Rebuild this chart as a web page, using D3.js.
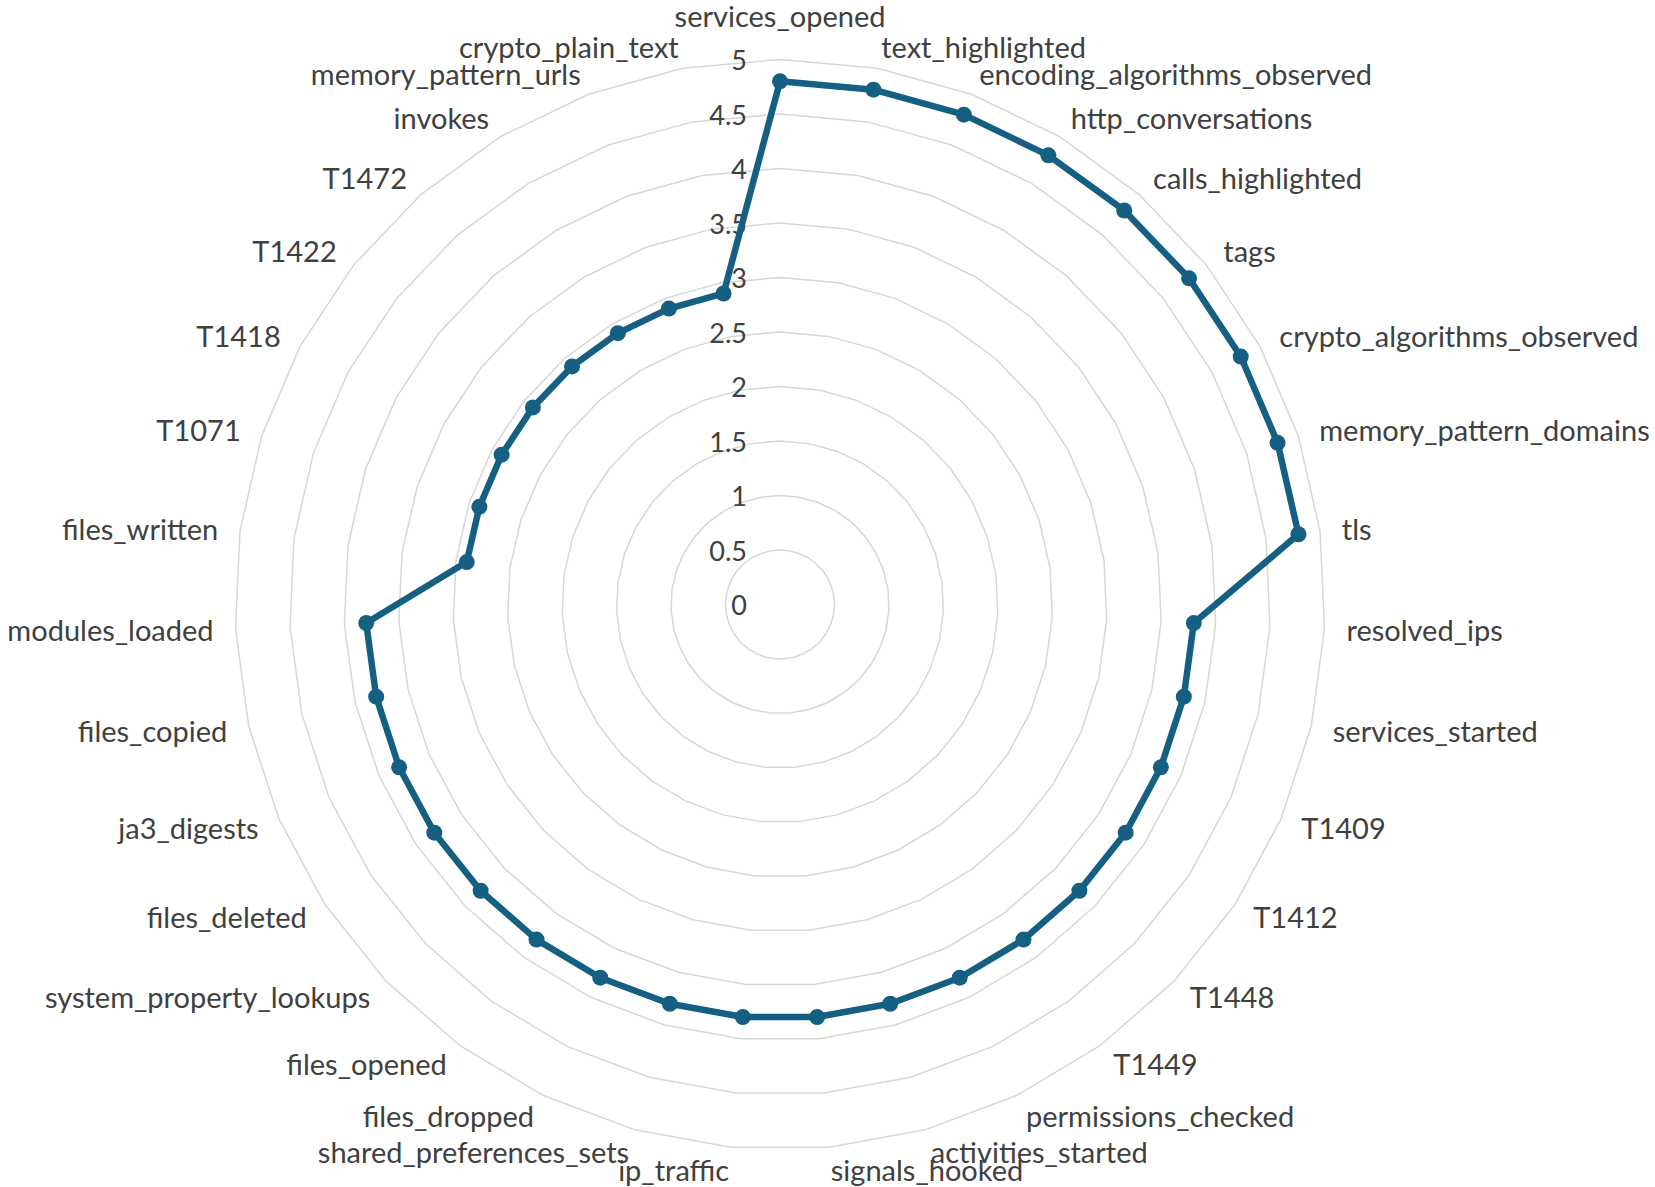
<!DOCTYPE html>
<html>
<head>
<meta charset="utf-8">
<script src="https://cdn.jsdelivr.net/npm/d3@7"></script>
<style>
  html, body { margin: 0; padding: 0; background: #ffffff; }
  svg { display: block; }
  text { font-family: Lato, "Open Sans", sans-serif; fill: #404040; }
</style>
</head>
<body>
<svg id="chart" width="1655" height="1187"></svg>
<script>
const categories = [
  "services_opened", "text_highlighted", "encoding_algorithms_observed", "http_conversations",
  "calls_highlighted", "tags", "crypto_algorithms_observed", "memory_pattern_domains", "tls",
  "resolved_ips", "services_started", "T1409", "T1412", "T1448", "T1449", "permissions_checked",
  "activities_started", "signals_hooked", "ip_traffic", "shared_preferences_sets", "files_dropped",
  "files_opened", "system_property_lookups", "files_deleted", "ja3_digests", "files_copied",
  "modules_loaded", "files_written", "T1071", "T1418", "T1422", "T1472", "invokes",
  "memory_pattern_urls", "crypto_plain_text"
];
const values = [
  4.8, 4.8, 4.8, 4.8, 4.8, 4.8, 4.8, 4.8, 4.8,
  3.8, 3.8, 3.8, 3.8, 3.8, 3.8, 3.8, 3.8, 3.8,
  3.8, 3.8, 3.8, 3.8, 3.8, 3.8, 3.8, 3.8, 3.8,
  2.9, 2.9, 2.9, 2.9, 2.9, 2.9, 2.9, 2.9
];
const tickValues = [0, 0.5, 1, 1.5, 2, 2.5, 3, 3.5, 4, 4.5, 5];
const tickLabels = ["0", "0.5", "1", "1.5", "2", "2.5", "3", "3.5", "4", "4.5", "5"];

const cx = 780, cy = 604.5;
const outerR = 545, labelR = 567;
const color = "#156082";

const svg = d3.select("#chart");
const g = svg.append("g").attr("transform", `translate(${cx},${cy})`);

const n = categories.length;
const angle = d3.scaleLinear().domain([0, n]).range([0, 2 * Math.PI]);
const r = d3.scaleLinear().domain([0, 5]).range([0, outerR]);

// grid rings (polygons)
const ringLine = d3.lineRadial()
  .angle((d, i) => angle(i))
  .radius(d => r(d))
  .curve(d3.curveLinearClosed);

g.append("g").selectAll("path")
  .data(tickValues.filter(t => t > 0))
  .join("path")
  .attr("d", t => ringLine(categories.map(() => t)))
  .attr("fill", "none")
  .attr("stroke", "#d6d6d6")
  .attr("stroke-width", 1.5);

// tick labels
g.append("g").selectAll("text")
  .data(tickValues)
  .join("text")
  .attr("x", -33)
  .attr("y", t => -r(t))
  .attr("text-anchor", "end")
  .attr("dominant-baseline", "central")
  .style("font-size", "27px")
  .text((t, i) => tickLabels[i]);

// category labels
g.append("g").selectAll("text")
  .data(categories)
  .join("text")
  .each(function(d, i) {
    const a = angle(i);
    const s = Math.sin(a), c = Math.cos(a);
    const sel = d3.select(this);
    if (i === 0) {
      sel.attr("x", 0).attr("y", -labelR - 22).attr("text-anchor", "middle");
    } else {
      sel.attr("x", labelR * s).attr("y", -labelR * c)
        .attr("text-anchor", s > 0.001 ? "start" : (s < -0.001 ? "end" : "middle"));
    }
    sel.attr("dominant-baseline", "central");
  })
  .style("font-size", "29px")
  .text(d => d);

// data line
const dataLine = d3.lineRadial()
  .angle((d, i) => angle(i))
  .radius(d => r(d))
  .curve(d3.curveLinearClosed);

g.append("path")
  .datum(values)
  .attr("d", dataLine)
  .attr("fill", "none")
  .attr("stroke", color)
  .attr("stroke-width", 6.5)
  .attr("stroke-linejoin", "round");

g.append("g").selectAll("circle")
  .data(values)
  .join("circle")
  .attr("cx", (d, i) => r(d) * Math.sin(angle(i)))
  .attr("cy", (d, i) => -r(d) * Math.cos(angle(i)))
  .attr("r", 8)
  .attr("fill", color);
</script>
</body>
</html>
